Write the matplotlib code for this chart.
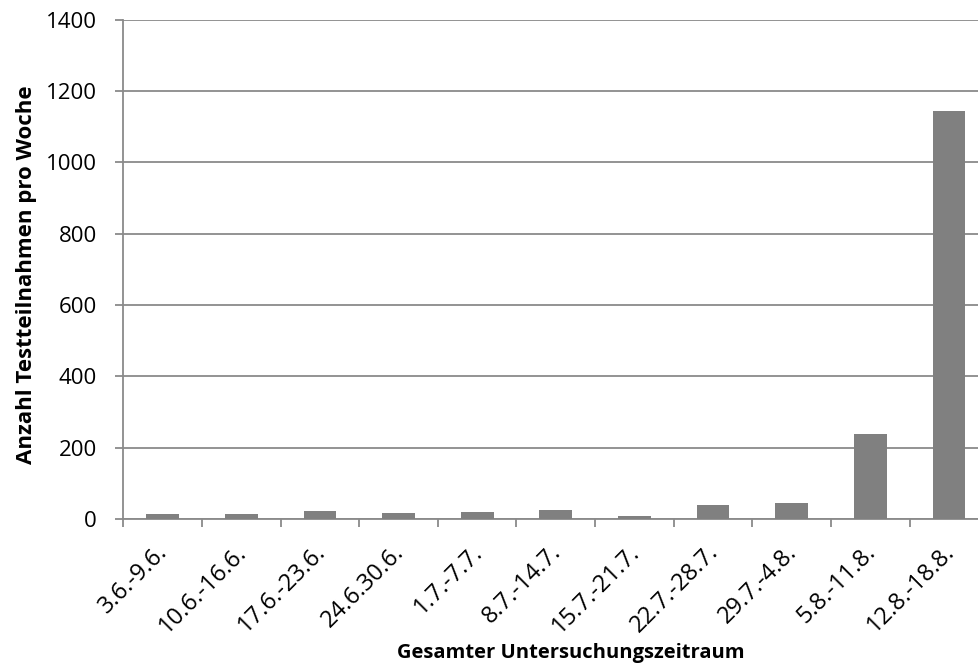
import matplotlib.pyplot as plt
import matplotlib.transforms as mtransforms
import numpy as np

# Wochen im Untersuchungszeitraum und Teilnahmen je Woche
wochen = ['3.6.-9.6.', '10.6.-16.6.', '17.6.-23.6.', '24.6.30.6.', '1.7.-7.7.',
          '8.7.-14.7.', '15.7.-21.7.', '22.7.-28.7.', '29.7.-4.8.', '5.8.-11.8.',
          '12.8.-18.8.']
teilnahmen = [14, 14, 22, 18, 21, 26, 8, 38, 46, 238, 1144]
y_ticks = [0, 200, 400, 600, 800, 1000, 1200, 1400]

plt.rcParams['font.family'] = ['Open Sans', 'DejaVu Sans']

W, H = 979, 668
fig = plt.figure(figsize=(W / 100, H / 100), dpi=100)
# Zeichenfläche reicht rechts etwas über den Bildrand hinaus
ax = fig.add_axes([123.3 / W, 1 - 519 / H, 865 / W, 499.5 / H])

x = np.arange(len(wochen))
ax.bar(x, teilnahmen, width=0.416, color='#808080', zorder=3)

ax.set_xlim(-0.5, len(wochen) - 0.5)
ax.set_ylim(0, 1400)
ax.set_yticks(y_ticks)
ax.set_yticklabels([str(v) for v in y_ticks], fontsize=16)
ax.yaxis.grid(True, color='#8a8a8a', linewidth=1.3, zorder=0)

# Kategorien mittig, Teilstriche zwischen den Kategorien
ax.set_xticks(x)
ax.set_xticklabels(wochen, rotation=45, ha='right', va='baseline',
                   rotation_mode='anchor', fontsize=17)
ax.tick_params(axis='x', which='major', length=0, pad=24.5)
shift = mtransforms.ScaledTranslation(4.3 / 72, 0, fig.dpi_scale_trans)
for lbl in ax.get_xticklabels():
    lbl.set_transform(lbl.get_transform() + shift)
ax.set_xticks(np.arange(-0.5, len(wochen)), minor=True)
ax.tick_params(axis='x', which='minor', length=6, width=1.3, color='#8a8a8a')
ax.tick_params(axis='y', length=6, width=1.3, color='#8a8a8a', pad=13)

for side in ['top', 'right']:
    ax.spines[side].set_visible(False)
for side in ['left', 'bottom']:
    ax.spines[side].set_color('#8a8a8a')
    ax.spines[side].set_linewidth(1.3)

ax.set_xlabel('Gesamter Untersuchungszeitraum', fontsize=14.5, fontweight='bold')
ax.xaxis.label.set_va('baseline')
ax.xaxis.set_label_coords((571 - 123.3) / 865, -139 / 499.5)
ax.set_ylabel('Anzahl Testteilnahmen pro Woche', fontsize=16, fontweight='bold')
ax.yaxis.set_label_coords((37 - 123.3) / 865, 0.49)

fig.savefig('out.png', dpi=100)
